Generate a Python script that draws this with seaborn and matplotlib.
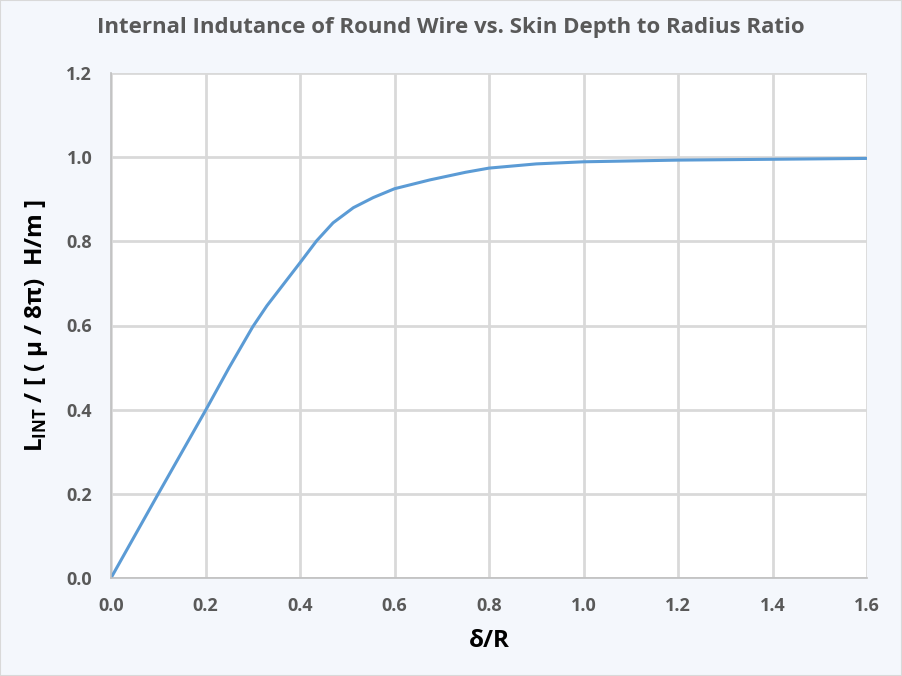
import matplotlib
matplotlib.use("Agg")
import matplotlib.pyplot as plt
import seaborn as sns
import pandas as pd
from matplotlib.patches import Rectangle

# Data
delta_over_r = [0.0, 0.1, 0.2, 0.25, 0.3, 0.33, 0.365, 0.4, 0.435, 0.47, 0.513, 0.555,
                0.6, 0.675, 0.75, 0.8, 0.9, 1.0, 1.1, 1.2, 1.4, 1.6]
l_int_norm = [0.0, 0.2, 0.398, 0.5, 0.597, 0.647, 0.698, 0.749, 0.801, 0.844, 0.880, 0.904,
              0.925, 0.946, 0.964, 0.974, 0.984, 0.989, 0.991, 0.993, 0.995, 0.997]
x_ticks = [0.0, 0.2, 0.4, 0.6, 0.8, 1.0, 1.2, 1.4, 1.6]
y_ticks = [0.0, 0.2, 0.4, 0.6, 0.8, 1.0, 1.2]

title = "Internal Indutance of Round Wire vs. Skin Depth to Radius Ratio"
x_label = "δ/R"

sns.set_theme(style="whitegrid")
plt.rcParams['font.family'] = ['Open Sans', 'DejaVu Sans']
plt.rcParams['mathtext.fontset'] = 'custom'
plt.rcParams['mathtext.rm'] = 'Open Sans'
plt.rcParams['mathtext.bf'] = 'Open Sans:bold'

bg = '#F4F7FC'
fig = plt.figure(figsize=(9.02, 6.76), dpi=100, facecolor=bg)
ax = fig.add_axes([111/902, 1-578/676, (867-111)/902, (578-73)/676])
ax.set_facecolor('white')

df = pd.DataFrame({"x": delta_over_r, "y": l_int_norm})
sns.lineplot(data=df, x="x", y="y", ax=ax, color='#5B9BD5', linewidth=2.2)

ax.set_xlim(0, 1.6)
ax.set_ylim(0, 1.2)
ax.set_xticks(x_ticks)
ax.set_yticks(y_ticks)
ax.set_xticklabels([f"{t:.1f}" for t in x_ticks])
ax.set_yticklabels([f"{t:.1f}" for t in y_ticks])
ax.grid(True, color='#D9D9D9', linewidth=2.0)
for s in ['top', 'right']:
    ax.spines[s].set_visible(False)
for s in ['left', 'bottom']:
    ax.spines[s].set_color('#BFBFBF')
    ax.spines[s].set_linewidth(1.2)
ax.tick_params(axis='both', length=0, labelsize=13, colors='#595959', pad=13.5)
for lab in ax.get_xticklabels() + ax.get_yticklabels():
    lab.set_fontweight('bold')

ax.set_xlabel(x_label, fontsize=17.5, fontweight='bold', color='black', labelpad=10)
ax.set_ylabel(r"$\mathbf{L}_{\mathbf{INT}}$ / [ ( μ / 8π)  H/m ]", fontsize=17.5,
              fontweight='bold', color='black', labelpad=12)

fig.text(0.5, 1-27/676, title, ha='center', va='center', fontsize=16,
         fontweight='bold', color='#595959')

fig.patches.append(Rectangle((0, 0), 1, 1, transform=fig.transFigure, fill=False,
                             edgecolor='#D9D9D9', linewidth=1.5))

fig.savefig("out.png", dpi=100, facecolor=bg)
